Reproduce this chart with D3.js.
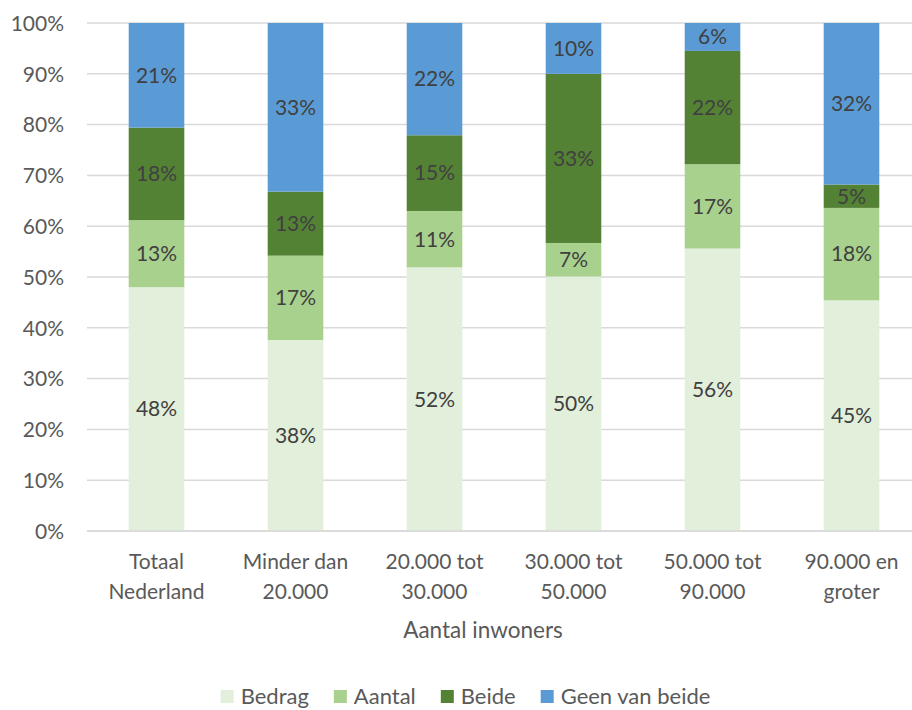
<!DOCTYPE html>
<html>
<head>
<meta charset="utf-8">
<script src="https://cdn.jsdelivr.net/npm/d3@7"></script>
<style>
  html, body { margin: 0; padding: 0; background: #fff; }
  svg { display: block; font-family: Lato, "Open Sans", sans-serif; }
</style>
</head>
<body>
<svg id="chart" width="912" height="710"></svg>
<script>
// ---- data ----
const categories = [
  ["Totaal", "Nederland"],
  ["Minder dan", "20.000"],
  ["20.000 tot", "30.000"],
  ["30.000 tot", "50.000"],
  ["50.000 tot", "90.000"],
  ["90.000 en", "groter"]
];
const seriesNames = ["Bedrag", "Aantal", "Beide", "Geen van beide"];
const bedrag = [48.0, 37.6, 51.9, 50.1, 55.6, 45.4];
const aantal = [13.2, 16.6, 11.1, 6.6, 16.6, 18.2];
const beide  = [18.2, 12.6, 14.9, 33.3, 22.3, 4.6];
const geen   = [20.6, 33.2, 22.1, 10.0, 5.5, 31.8];
const yTicks = [0, 10, 20, 30, 40, 50, 60, 70, 80, 90, 100];
const colors = ["#E2EFDA", "#A9D18E", "#548235", "#5B9BD5"];
const xTitle = "Aantal inwoners";

// ---- build ----
const svg = d3.select("#chart");
const margin = { left: 87, right: -9, top: 23, bottom: 179 };
const W = 912, H = 710;
const x0 = margin.left, x1 = W - margin.right;
const y0 = H - margin.bottom, y1 = margin.top;

const keys = categories.map((c, i) => i);
const x = d3.scaleBand().domain(keys).range([x0, x1]).paddingInner(0.6).paddingOuter(0.3);
const y = d3.scaleLinear().domain([0, 100]).range([y0, y1]);

const rows = keys.map(i => ({ i, Bedrag: bedrag[i], Aantal: aantal[i], Beide: beide[i], "Geen van beide": geen[i] }));
const stacked = d3.stack().keys(seriesNames)(rows);
const color = d3.scaleOrdinal().domain(seriesNames).range(colors);

const textCol = "#595959";
const fs = 21;

// gridlines
svg.append("g").selectAll("line").data(yTicks).join("line")
  .attr("x1", x0).attr("x2", x1)
  .attr("y1", d => y(d)).attr("y2", d => y(d))
  .attr("stroke", "#D9D9D9").attr("stroke-width", 1.5);

// y axis labels
const yAxis = d3.axisLeft(y).tickValues(yTicks).tickFormat(d => d + "%").tickSize(0).tickPadding(0);
const gy = svg.append("g").attr("transform", `translate(${x0 - 23},0)`).call(yAxis);
gy.select(".domain").remove();
gy.selectAll("text").attr("fill", textCol).attr("font-size", fs).attr("font-family", "Lato").attr("dy", "0.35em");

// bars
const layers = svg.append("g").selectAll("g").data(stacked).join("g")
  .attr("fill", d => color(d.key));
layers.selectAll("rect").data(d => d).join("rect")
  .attr("x", d => x(d.data.i))
  .attr("width", x.bandwidth())
  .attr("y", d => y(d[1]))
  .attr("height", d => y(d[0]) - y(d[1]));

// data labels
const lab = svg.append("g");
stacked.forEach(s => {
  lab.selectAll(null).data(s).join("text")
    .attr("x", d => x(d.data.i) + x.bandwidth() / 2)
    .attr("y", d => (y(d[0]) + y(d[1])) / 2)
    .attr("dy", "0.35em")
    .attr("text-anchor", "middle")
    .attr("font-size", fs)
    .attr("fill", "#404040")
    .text(d => Math.round(d[1] - d[0]) + "%");
});

// x axis baseline
svg.append("line").attr("x1", x0).attr("x2", x1).attr("y1", y0).attr("y2", y0)
  .attr("stroke", "#D9D9D9").attr("stroke-width", 1.5);

// x axis labels
const xl = svg.append("g");
xl.selectAll("text").data(keys).join("text")
  .attr("x", d => x(d) + x.bandwidth() / 2)
  .attr("y", y0 + 38)
  .attr("text-anchor", "middle")
  .attr("font-size", fs)
  .attr("fill", textCol)
  .each(function(d) {
    const t = d3.select(this);
    categories[d].forEach((line, k) => {
      t.append("tspan").attr("x", x(d) + x.bandwidth() / 2).attr("dy", k === 0 ? 0 : 30).text(line);
    });
  });

// x title
svg.append("text").attr("x", 483).attr("y", y0 + 107)
  .attr("text-anchor", "middle").attr("font-size", 22.5).attr("fill", textCol)
  .text(xTitle);

// legend
const leg = svg.append("g");
const items = leg.selectAll("g").data(seriesNames).join("g");
items.append("rect").attr("width", 13).attr("height", 13).attr("y", -14).attr("fill", d => color(d));
items.append("text").attr("x", 20).attr("y", 0).attr("font-size", 22).attr("fill", textCol).text(d => d);
let cx = 0;
items.each(function() {
  const g = d3.select(this);
  g.attr("transform", `translate(${cx},0)`);
  const w = 20 + g.select("text").node().getComputedTextLength();
  cx += w + 25;
});
const totalW = cx - 25;
leg.attr("transform", `translate(${465.5 - totalW / 2},${704})`);
</script>
</body>
</html>
